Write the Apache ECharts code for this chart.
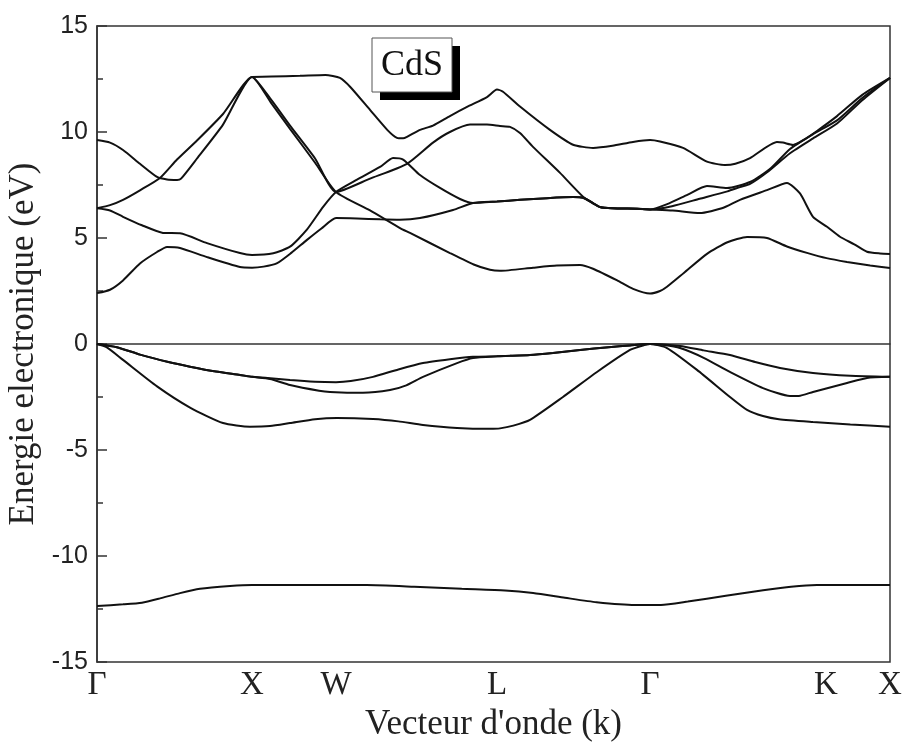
<!DOCTYPE html>
<html>
<head>
<meta charset="utf-8">
<title>CdS - structure de bandes</title>
<script src="https://cdn.jsdelivr.net/npm/echarts@6/dist/echarts.min.js"></script>
<style>
  html, body { margin: 0; padding: 0; background: #fff; }
  #chart { width: 908px; height: 749px; }
</style>
</head>
<body>
<div id="chart"></div>
<script>
// High-symmetry points along the k-path (path length in arbitrary units, 0..100)
const symLabels = ['Γ', 'X', 'W', 'L', 'Γ', 'K', 'X'];
const symPositions = [0, 19.55, 30.14, 50.44, 69.74, 91.93, 100];

// Energy axis ticks (eV)
const energyMin = -15;
const energyMax = 15;
const energyStep = 5;

// Band energies [k, E(eV)] along Γ-X-W-L-Γ-K-X
const bandS = [
  [0,-12.36],[3.28,-12.28],[5.67,-12.2],[7.94,-12.0],[10.47,-11.75],[12.99,-11.55],[16.77,-11.42],[19.55,-11.37],
  [34.0,-11.37],[40.0,-11.45],[46.0,-11.55],[51.45,-11.63],[55.0,-11.75],[59.0,-11.97],[63.0,-12.18],[67.84,-12.31],
  [71.12,-12.31],[74.5,-12.15],[79.3,-11.88],[84.0,-11.62],[87.52,-11.45],[90.79,-11.37],[100,-11.37]
];

const vb1 = [
  [0,0],[2.5,-0.15],[5.42,-0.5],[9.0,-0.85],[11.73,-1.07],[15.0,-1.3],[18.03,-1.46],[19.55,-1.55],
  [21.5,-1.6],[24.34,-1.7],[27.5,-1.78],[30.14,-1.8],[32.0,-1.75],[34.8,-1.55],[38.0,-1.2],[41.11,-0.9],[44.5,-0.72],[47.41,-0.6],[50.44,-0.58],
  [52.08,-0.56],[54.6,-0.52],[57.5,-0.42],[60.91,-0.28],[64.5,-0.15],[67.21,-0.07],[69.74,0],
  [73.52,-0.09],[76.5,-0.3],[79.82,-0.52],[83.0,-0.85],[86.13,-1.13],[90.29,-1.37],[95.0,-1.5],[100,-1.55]
];

const vb2 = [
  [0,0],[2.5,-0.15],[5.42,-0.5],[9.0,-0.85],[11.73,-1.07],[15.0,-1.3],[18.03,-1.46],[19.55,-1.55],
  [21.82,-1.65],[24.34,-1.93],[28.0,-2.2],[29.38,-2.26],[33.54,-2.3],[36.95,-2.17],[39.0,-1.95],[41.11,-1.55],[45.4,-0.9],[47.41,-0.66],[50.44,-0.58],
  [52.08,-0.56],[54.6,-0.52],[57.5,-0.42],[60.91,-0.28],[64.5,-0.15],[67.21,-0.07],[69.74,0],
  [71.5,-0.05],[73.52,-0.19],[76.5,-0.65],[79.82,-1.32],[83.98,-2.08],[87.39,-2.45],[88.5,-2.45],[90.29,-2.26],[94.58,-1.84],[97.1,-1.6],[100,-1.55]
];

const vb3 = [
  [0,0],[1.2,-0.15],[3.28,-0.75],[7.57,-2.0],[11.73,-3.0],[15.89,-3.73],[19.29,-3.9],
  [21.82,-3.87],[24.34,-3.73],[27.5,-3.55],[30.26,-3.49],[34.8,-3.54],[38.0,-3.65],[41.11,-3.82],[45.4,-3.96],[49.56,-4.0],[50.82,-3.98],
  [52.5,-3.85],[54.6,-3.58],[58.76,-2.5],[63.05,-1.32],[67.21,-0.28],[69.0,-0.05],[69.74,0],
  [71.88,-0.19],[75.66,-1.22],[79.82,-2.5],[81.97,-3.11],[83.98,-3.4],[86.0,-3.55],[90.29,-3.68],[95.0,-3.8],[100,-3.9]
];

const cb1 = [
  [0,2.4],[1.64,2.56],[3.28,3.0],[5.42,3.8],[7.57,4.34],[8.83,4.58],[10.47,4.53],[13.87,4.1],[18.03,3.63],[19.55,3.6],
  [21.0,3.65],[22.66,3.8],[24.5,4.3],[26.44,4.9],[28.3,5.45],[30.14,5.94],
  [32.79,5.92],[35.69,5.88],[38.21,5.86],[40.73,5.94],[44.9,6.32],[47.41,6.65],
  [50.44,6.72],[53.34,6.8],[56.75,6.88],[60.03,6.93],[61.29,6.9],[62.55,6.65],[63.43,6.46],[65.0,6.4],[68.1,6.38],[69.74,6.35],
  [72.6,6.3],[76.04,6.18],[78.8,6.4],[81.08,6.8],[84.49,7.26],[87.01,7.6],[88.65,7.1],[90.29,6.0],[92.06,5.53],[93.69,5.06],[95.5,4.7],[97.1,4.35],[98.74,4.27],[100,4.25]
];

const cb2 = [
  [0,6.4],[1.64,6.3],[3.28,6.0],[5.67,5.6],[8.32,5.24],[10.47,5.22],[13.87,4.76],[18.03,4.29],[19.55,4.2],
  [22.23,4.28],[24.34,4.59],[26.44,5.38],[28.54,6.48],[30.14,7.17],
  [32.79,7.75],[35.69,8.35],[37.33,8.77],[38.6,8.7],[40.73,7.97],[43.25,7.36],[45.78,6.84],[47.41,6.65],
  [50.44,6.72],[53.34,6.8],[56.75,6.88],[60.03,6.93],[61.29,6.9],[62.55,6.65],[63.43,6.46],[65.0,6.4],[68.1,6.38],[69.74,6.35],
  [71.9,6.6],[74.5,7.05],[76.92,7.45],[79.45,7.36],[82.35,7.64],[85.0,8.3],[87.39,9.2],[90.3,9.9],[93.32,10.55],[96.5,11.6],[100,12.55]
];

const cb3 = [
  [0,6.4],[1.64,6.55],[3.28,6.8],[5.42,7.25],[7.94,7.83],[10.09,8.7],[12.61,9.6],[15.89,10.85],[19.55,12.6],
  [22.0,11.35],[24.34,10.15],[27.5,8.55],[30.14,7.17],
  [34.43,6.3],[38.21,5.47],[39.47,5.24],[44.51,4.29],[47.5,3.75],[49.56,3.5],[50.82,3.45],
  [54.98,3.6],[58.0,3.7],[60.91,3.73],[62.55,3.55],[65.6,3.0],[67.6,2.6],[69.74,2.38],
  [71.0,2.5],[71.88,2.7],[74.0,3.35],[76.92,4.25],[79.5,4.8],[81.97,5.05],[84.49,5.0],[87.0,4.6],[89.53,4.3],[92.0,4.05],[94.58,3.87],[97.5,3.7],[100,3.58]
];

const cb4 = [
  [0,9.62],[1.64,9.5],[3.28,9.15],[5.42,8.5],[7.57,7.88],[8.83,7.76],[10.09,7.74],[10.6,7.8],[12.61,8.75],[15.89,10.35],[19.55,12.6],
  [22.0,11.5],[24.34,10.3],[27.5,8.75],[30.14,7.17],
  [34.43,7.8],[39.09,8.5],[42.37,9.5],[44.5,10.0],[47.04,10.35],[49.18,10.35],[50.82,10.28],[52.08,10.24],
  [53.34,9.95],[54.98,9.3],[58.39,8.07],[61.29,6.95],[63.43,6.46],[65.0,6.4],[68.1,6.38],[69.74,6.35],
  [72.5,6.5],[76.0,6.85],[79.5,7.2],[81.08,7.4],[82.35,7.55],[84.5,8.1],[87.39,9.0],[90.3,9.7],[93.32,10.4],[96.5,11.5],[100,12.55]
];

const cb5 = [
  [19.55,12.6],[22.0,12.62],[25.6,12.65],[28.8,12.69],[30.64,12.55],[32.0,12.1],[34.43,11.04],[36.6,10.1],[37.83,9.72],[38.6,9.7],[39.09,9.77],
  [40.73,10.1],[42.37,10.3],[44.5,10.75],[46.66,11.18],[49.18,11.65],[50.44,12.0],
  [51.2,11.9],[53.34,11.2],[57.12,10.1],[60.03,9.4],[62.55,9.25],[65.0,9.35],[67.59,9.53],[69.74,9.62],
  [71.0,9.55],[73.9,9.25],[76.92,8.6],[79.19,8.44],[80.5,8.5],[82.35,8.77],[85.75,9.53],[86.5,9.5],[87.77,9.39],[89.0,9.6],[90.79,10.05],[93.32,10.75],[96.5,11.75],[100,12.55]
];

const bands = [bandS, vb1, vb2, vb3, cb1, cb2, cb3, cb4, cb5];

const serif = '"Liberation Serif", "Times New Roman", serif';
const sans = '"Liberation Sans", Arial, sans-serif';

const chart = echarts.init(document.getElementById('chart'), null, { renderer: 'canvas' });

chart.setOption({
  animation: false,
  backgroundColor: '#fff',
  grid: {
    left: 97, right: 18, top: 26, bottom: 87,
    show: true, borderColor: '#333', borderWidth: 1.5,
    containLabel: false, outerBoundsMode: 'none'
  },
  xAxis: {
    type: 'value',
    min: 0, max: 100,
    name: "Vecteur d'onde (k)",
    nameLocation: 'middle',
    nameGap: 38,
    nameTextStyle: { fontFamily: serif, fontSize: 35, color: '#222' },
    axisLine: { show: true, lineStyle: { color: '#333', width: 1.5 } },
    axisTick: { show: false },
    splitLine: { show: false },
    axisLabel: {
      customValues: symPositions,
      formatter: function (v) {
        const i = symPositions.indexOf(v);
        return i >= 0 ? symLabels[i] : '';
      },
      fontFamily: serif, fontSize: 33, color: '#222', margin: 7
    }
  },
  yAxis: {
    type: 'value',
    min: energyMin, max: energyMax, interval: energyStep,
    name: 'Energie electronique (eV)',
    nameLocation: 'middle',
    nameGap: 56,
    nameRotate: 90,
    nameTextStyle: { fontFamily: serif, fontSize: 35, color: '#222' },
    axisLine: { show: true, lineStyle: { color: '#333', width: 1.5 } },
    axisTick: { show: true, inside: true, length: 10, lineStyle: { color: '#333', width: 1.5 } },
    minorTick: { show: true, splitNumber: 2, length: 6, lineStyle: { color: '#333', width: 1.5 } },
    splitLine: { show: false },
    axisLabel: { fontFamily: sans, fontSize: 25, color: '#222', margin: 9 }
  },
  graphic: [
    { type: 'rect', shape: { x: 380, y: 46, width: 80, height: 54 }, style: { fill: '#000' }, z: 10 },
    { type: 'rect', shape: { x: 372, y: 38, width: 80, height: 54 }, style: { fill: '#fff', stroke: '#555', lineWidth: 1 }, z: 11 },
    { type: 'text', x: 412, y: 66, z: 12,
      style: { text: 'CdS', font: '36px "Liberation Serif", serif', fill: '#111', align: 'center', verticalAlign: 'middle' } }
  ],
  series: bands.map(function (b) {
    return {
      type: 'line',
      data: b,
      showSymbol: false,
      smooth: 0.2,
      lineStyle: { color: '#111', width: 2 },
      silent: true,
      z: 3
    };
  })
});
</script>
</body>
</html>
